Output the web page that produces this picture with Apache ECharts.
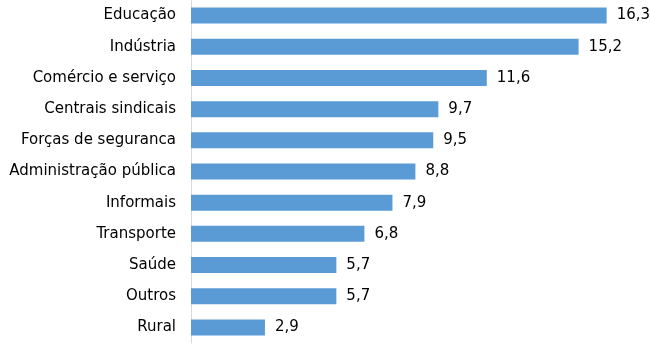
<!DOCTYPE html>
<html><head><meta charset="utf-8">
<script src="https://cdn.jsdelivr.net/npm/echarts@6/dist/echarts.min.js"></script>
<style>html,body{margin:0;padding:0;background:#fff}#c{width:650px;height:344px}</style>
</head><body><div id="c"></div>
<script>
const categories = ["Educação","Indústria","Comércio e serviço","Centrais sindicais","Forças de seguranca","Administração pública","Informais","Transporte","Saúde","Outros","Rural"];
const values = [16.3,15.2,11.6,9.7,9.5,8.8,7.9,6.8,5.7,5.7,2.9];
const chart = echarts.init(document.getElementById('c'));
const font = 'DejaVu Sans';
chart.setOption({
  animation:false,
  grid:{left:191,right:0,top:0,bottom:1,containLabel:false},
  xAxis:{type:'value',min:0,max:18,show:false},
  yAxis:{type:'category',inverse:true,data:categories,
    axisLine:{show:true,lineStyle:{color:'#d9d9d9',width:1}},
    axisTick:{show:false},
    axisLabel:{color:'#000',fontFamily:font,fontSize:15,margin:15}},
  series:[{type:'bar',data:values,barWidth:16,
    itemStyle:{color:'#5b9bd5'},
    label:{show:true,position:'right',distance:10,color:'#000',fontFamily:font,fontSize:15,
      formatter:p=>String(p.value).replace('.',',')}}]
});
</script></body></html>
